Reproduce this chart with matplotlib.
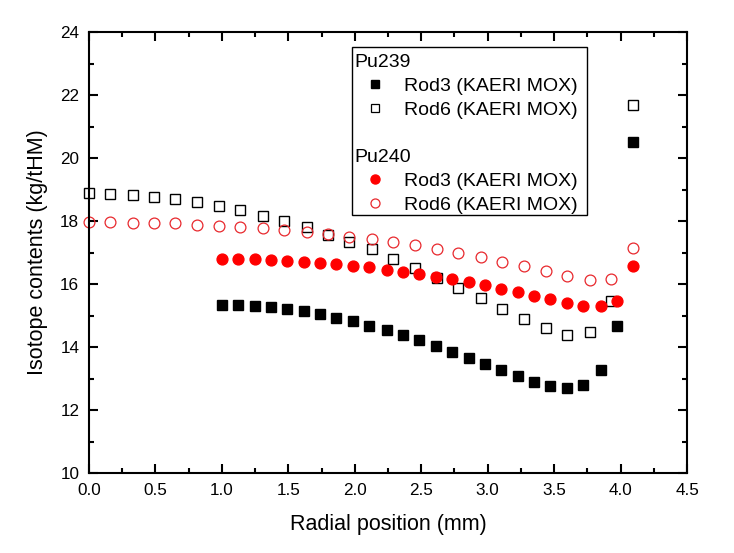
import matplotlib
matplotlib.use("Agg")
import matplotlib.pyplot as plt
from matplotlib.lines import Line2D
from matplotlib.patches import Rectangle
from matplotlib.ticker import MultipleLocator

plt.rcParams['font.family'] = ['Liberation Sans', 'DejaVu Sans']

# Rod6 positions (mm) and contents (kg/tHM)
x_rod6 = [0.0, 0.16, 0.33, 0.49, 0.65, 0.81, 0.98, 1.14, 1.31, 1.47, 1.64, 1.80, 1.96,
          2.13, 2.29, 2.45, 2.62, 2.78, 2.95, 3.11, 3.27, 3.44, 3.60, 3.77, 3.93, 4.09]
pu239_rod6 = [18.88, 18.85, 18.83, 18.76, 18.70, 18.61, 18.48, 18.35, 18.16, 18.01, 17.80, 17.56, 17.33,
              17.10, 16.79, 16.52, 16.20, 15.88, 15.57, 15.21, 14.90, 14.59, 14.38, 14.49, 15.47, 21.68]
pu240_rod6 = [17.98, 17.96, 17.95, 17.93, 17.93, 17.87, 17.84, 17.81, 17.77, 17.71, 17.64, 17.58, 17.50,
              17.42, 17.32, 17.24, 17.10, 16.99, 16.85, 16.71, 16.57, 16.41, 16.26, 16.13, 16.15, 17.13]

# Rod3 positions (mm) and contents (kg/tHM)
x_rod3 = [1.00, 1.12, 1.25, 1.37, 1.49, 1.62, 1.74, 1.86, 1.99, 2.11, 2.24, 2.36, 2.48,
          2.61, 2.73, 2.86, 2.98, 3.10, 3.23, 3.35, 3.47, 3.60, 3.72, 3.85, 3.97, 4.09]
pu239_rod3 = [15.33, 15.33, 15.30, 15.27, 15.21, 15.14, 15.05, 14.91, 14.82, 14.66, 14.54, 14.38, 14.23,
              14.03, 13.85, 13.66, 13.46, 13.26, 13.08, 12.90, 12.75, 12.69, 12.80, 13.27, 14.67, 20.52]
pu240_rod3 = [16.79, 16.79, 16.78, 16.76, 16.74, 16.71, 16.68, 16.63, 16.58, 16.53, 16.44, 16.39, 16.32,
              16.23, 16.15, 16.07, 15.97, 15.85, 15.75, 15.63, 15.51, 15.41, 15.31, 15.29, 15.46, 16.57]

label_rod3 = 'Rod3 (KAERI MOX)'
label_rod6 = 'Rod6 (KAERI MOX)'

fig = plt.figure(figsize=(7.34, 5.53), dpi=100)
ax = fig.add_axes([89 / 734, 80 / 553, 598 / 734, 441 / 553])

ms = 7.2
ax.plot(x_rod6, pu239_rod6, 's', ms=ms, mfc='white', mec='black', mew=1.0, clip_on=False)
ax.plot(x_rod3, pu239_rod3, 's', ms=ms, mfc='black', mec='black', clip_on=False)
ax.plot(x_rod3, pu240_rod3, 'o', ms=ms + 0.6, mfc='red', mec='red', clip_on=False)
ax.plot(x_rod6, pu240_rod6, 'o', ms=ms + 0.6, mfc='none', mec='#e8282d', mew=0.9, clip_on=False)

ax.set_xlim(0, 4.5)
ax.set_ylim(10, 24)
ax.xaxis.set_major_locator(MultipleLocator(0.5))
ax.xaxis.set_minor_locator(MultipleLocator(0.25))
ax.yaxis.set_major_locator(MultipleLocator(2))
ax.yaxis.set_minor_locator(MultipleLocator(1))
ax.tick_params(which='both', direction='in', top=True, right=True, width=1.5)
ax.tick_params(which='major', length=6.5, labelsize=12.3, pad=7)
ax.tick_params(which='minor', length=3.5)
for s in ax.spines.values():
    s.set_linewidth(1.5)
ax.set_xticklabels([f'{v:.1f}' for v in ax.get_xticks()])

ax.set_xlabel('Radial position (mm)', fontsize=15.5, labelpad=11.5)
ax.set_ylabel('Isotope contents (kg/tHM)', fontsize=15.5, labelpad=8.5)

# legend: two titled groups inside one frame
lms = 6
h239 = [Line2D([], [], ls='none', marker='s', ms=lms, mfc='black', mec='black'),
        Line2D([], [], ls='none', marker='s', ms=lms, mfc='white', mec='black', mew=0.9)]
h240 = [Line2D([], [], ls='none', marker='o', ms=lms + 0.5, mfc='red', mec='red'),
        Line2D([], [], ls='none', marker='o', ms=lms + 0.5, mfc='none', mec='#e8282d', mew=0.9)]
common = dict(frameon=False, loc='upper left', alignment='left', fontsize=14,
              title_fontsize=14, numpoints=1, handlelength=2.13, handletextpad=0.39,
              labelspacing=0.33, borderpad=0.0, borderaxespad=0.0)
leg1 = ax.legend(h239, [label_rod3, label_rod6], title='Pu239',
                 bbox_to_anchor=(0.444, 0.950), **common)
ax.add_artist(leg1)
leg2 = ax.legend(h240, [label_rod3, label_rod6], title='Pu240',
                 bbox_to_anchor=(0.444, 0.735), **common)
ax.add_patch(Rectangle((0.439, 0.585), 0.394, 0.380, transform=ax.transAxes,
                       fill=False, ec='black', lw=1.0, zorder=5))

fig.savefig('out.png', dpi=100)
